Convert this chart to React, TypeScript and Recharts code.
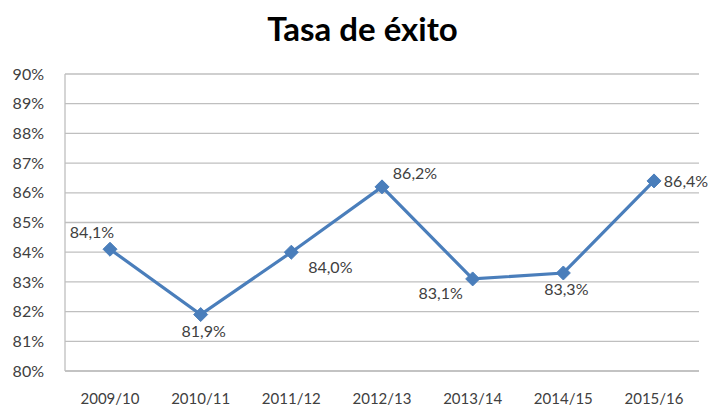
import { LineChart, Line, XAxis, YAxis, CartesianGrid } from 'recharts';

const seasons = ['2009/10', '2010/11', '2011/12', '2012/13', '2013/14', '2014/15', '2015/16'];
const successRate = [84.1, 81.9, 84.0, 86.2, 83.1, 83.3, 86.4];
const yTicks = [80, 81, 82, 83, 84, 85, 86, 87, 88, 89, 90];

const data = seasons.map((season, i) => ({ season, rate: successRate[i] }));

// where each data label sits relative to its marker
const labelPlace = ['upLeft', 'down', 'downRight', 'upRight', 'downLeft', 'down', 'right'];

const FONT = 'Lato, "Open Sans", sans-serif';
const BLUE = '#4A7EBB';

const fmt = (v: number) => v.toFixed(1).replace('.', ',') + '%';

const Diamond = (props: any) => {
    const { cx, cy } = props;
    const s = 7;
    return (
        <path
            d={`M${cx},${cy - s} L${cx + s},${cy} L${cx},${cy + s} L${cx - s},${cy} Z`}
            fill={BLUE}
            stroke={BLUE}
        />
    );
};

const RateLabel = (props: any) => {
    const { x, y, value, index } = props;
    let dx = 0;
    let dy = 0;
    switch (labelPlace[index]) {
        case 'upLeft':
            dx = -18;
            dy = -18;
            break;
        case 'down':
            dx = 3;
            dy = 16;
            break;
        case 'downRight':
            dx = 39;
            dy = 14;
            break;
        case 'upRight':
            dx = 33;
            dy = -14;
            break;
        case 'downLeft':
            dx = -32;
            dy = 14;
            break;
        case 'right':
            dx = 32;
            dy = 0;
            break;
    }
    return (
        <text
            x={x + dx}
            y={y + dy}
            textAnchor="middle"
            dominantBaseline="central"
            fontSize={16}
            fontFamily={FONT}
            fill="#404040"
        >
            {fmt(value)}
        </text>
    );
};

const App = () => {
    return (
        <div style={{ position: 'relative', width: 709, height: 400, background: '#fff' }}>
            <div
                style={{
                    position: 'absolute',
                    top: 0,
                    left: 0,
                    width: 709,
                    textAlign: 'center',
                    fontFamily: FONT,
                    fontWeight: 700,
                    fontSize: 33,
                    color: '#000',
                }}
            >
                Tasa de éxito
            </div>
            <LineChart
                width={709}
                height={400}
                data={data}
                margin={{ top: 66, right: 18, left: 0, bottom: 7 }}
            >
                <CartesianGrid vertical={false} stroke="#BFBFBF" strokeWidth={1.3} />
                <XAxis
                    dataKey="season"
                    stroke="#BFBFBF"
                    strokeWidth={1.3}
                    tickLine={false}
                    tickSize={0}
                    tickMargin={22}
                    height={30}
                    padding={{ left: 45, right: 45 }}
                    interval={0}
                    tick={{ fill: '#404040', fontSize: 15, fontFamily: FONT }}
                />
                <YAxis
                    domain={[80, 90]}
                    ticks={yTicks}
                    interval={0}
                    stroke="#BFBFBF"
                    strokeWidth={1.3}
                    tickLine={false}
                    tickSize={0}
                    tickMargin={21}
                    width={57}
                    tickFormatter={(v: number) => `${v}%`}
                    tick={{ fill: '#404040', fontSize: 16, fontFamily: FONT }}
                />
                <Line
                    dataKey="rate"
                    stroke={BLUE}
                    strokeWidth={3.2}
                    dot={<Diamond />}
                    activeDot={false}
                    label={<RateLabel />}
                    isAnimationActive={false}
                />
            </LineChart>
        </div>
    );
};

export default App;
